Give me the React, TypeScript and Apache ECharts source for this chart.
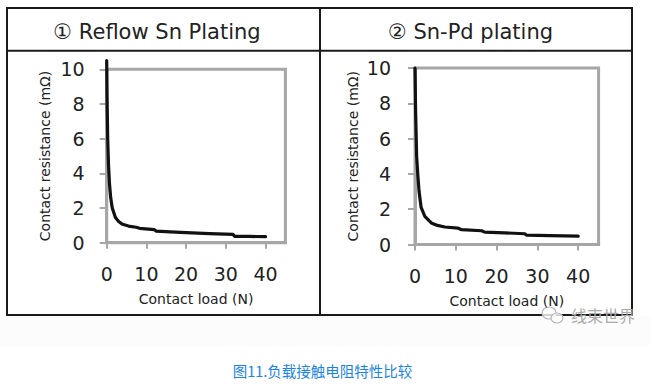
import React, { useEffect, useRef } from "react";
import * as echarts from "echarts";

const panelTitles = ["① Reflow Sn Plating", "② Sn-Pd plating"];
const xAxisName = "Contact load (N)";
const yAxisName = "Contact resistance (mΩ)";
const xTicks = [0, 10, 20, 30, 40];
const caption = "图11.负载接触电阻特性比较";
const watermark = "线束世界";

// ① Reflow Sn plating
const snLoad = [0, 0.1, 0.25, 0.45, 0.7, 1.0, 1.4, 2.2, 3.0, 4.0, 5.5, 7.4, 8.3, 12.0, 12.5, 16, 20, 25.9, 31.8, 32.2, 36, 40];
const snRes = [10.5, 8.2, 6.0, 4.5, 3.4, 2.6, 2.0, 1.45, 1.22, 1.06, 0.96, 0.89, 0.83, 0.75, 0.67, 0.62, 0.58, 0.52, 0.48, 0.37, 0.36, 0.35];

// ② Sn-Pd plating
const pdLoad = [0, 0.15, 0.4, 0.7, 1.0, 1.5, 2.4, 4.0, 5.5, 7.3, 10.5, 11.4, 16.3, 17.1, 22, 26.9, 27.3, 33, 40];
const pdRes = [10, 7.5, 5.0, 3.9, 3.0, 2.1, 1.6, 1.22, 1.08, 0.99, 0.93, 0.84, 0.78, 0.7, 0.66, 0.61, 0.53, 0.5, 0.47];

const FONT = "DejaVu Sans";
const GRAY = "#a6a6a6";
const TEXT = "#222";

function makeX(gridIndex: number) {
  return {
    type: "value",
    gridIndex,
    min: 0,
    max: 45,
    interval: 10,
    axisLine: { show: true, onZero: false, lineStyle: { color: GRAY, width: 3 } },
    axisTick: { show: true, length: 6, customValues: xTicks, lineStyle: { color: GRAY, width: 2 } },
    axisLabel: { customValues: xTicks, fontSize: 19, color: TEXT, fontFamily: FONT, margin: 22 },
    splitLine: { show: false },
    name: xAxisName,
    nameLocation: "middle",
    nameGap: 49,
    nameTextStyle: { fontSize: 14, color: TEXT, fontFamily: FONT },
  };
}

function makeY(gridIndex: number, margin: number) {
  return {
    type: "value",
    gridIndex,
    min: 0,
    max: 10,
    interval: 2,
    axisLine: { show: true, onZero: false, lineStyle: { color: GRAY, width: 3 } },
    axisTick: { show: true, length: 7, lineStyle: { color: GRAY, width: 2 } },
    axisLabel: { fontSize: 19, color: TEXT, fontFamily: FONT, margin },
    splitLine: { show: false },
    name: yAxisName,
    nameLocation: "middle",
    nameGap: 55,
    nameTextStyle: { fontSize: 14, color: TEXT, fontFamily: FONT },
  };
}

function makeSeries(idx: number, xs: number[], ys: number[]) {
  return {
    type: "line",
    xAxisIndex: idx,
    yAxisIndex: idx,
    data: xs.map((x, i) => [x, ys[i]]),
    showSymbol: false,
    symbol: "none",
    clip: false,
    lineStyle: { color: "#111", width: 3.2, cap: "round", join: "round" },
  };
}

export default function App() {
  const ref = useRef<HTMLDivElement>(null);
  useEffect(() => {
    if (!ref.current) return;
    const chart = echarts.init(ref.current, null, { renderer: "svg" });
    chart.setOption({
      animation: false,
      backgroundColor: "#ffffff",
      grid: [
        { left: 106.7, top: 69.3, width: 178.7, height: 173.4, show: true, borderColor: GRAY, borderWidth: 3 },
        { left: 415, top: 68, width: 183.6, height: 176.5, show: true, borderColor: GRAY, borderWidth: 3 },
      ],
      xAxis: [makeX(0), makeX(1)],
      yAxis: [makeY(0, 22), makeY(1, 24)],
      series: [makeSeries(0, snLoad, snRes), makeSeries(1, pdLoad, pdRes)],
      graphic: [
        { type: "rect", silent: true, z: -1, shape: { x: 0, y: 316, width: 650, height: 30 }, style: { fill: "#fcfcfc" } },
        { type: "rect", shape: { x: 7, y: 8, width: 625, height: 307 }, style: { fill: "none", stroke: "#1a1a1a", lineWidth: 2 } },
        { type: "line", shape: { x1: 7, y1: 50.7, x2: 632, y2: 50.7 }, style: { stroke: "#1a1a1a", lineWidth: 2 } },
        { type: "line", shape: { x1: 320, y1: 8, x2: 320, y2: 315 }, style: { stroke: "#1a1a1a", lineWidth: 2 } },
        { type: "text", x: 157, y: 31.5, style: { text: panelTitles[0], fontSize: 21, fontFamily: FONT, fill: TEXT, textAlign: "center", textVerticalAlign: "middle" } },
        { type: "text", x: 470.5, y: 31.5, style: { text: panelTitles[1], fontSize: 21, fontFamily: FONT, fill: TEXT, textAlign: "center", textVerticalAlign: "middle" } },
        { type: "ellipse", shape: { cx: 549, cy: 313, rx: 7, ry: 6 }, style: { fill: "rgba(255,255,255,0.8)", stroke: "#b8b8b8", lineWidth: 1.2 } },
        { type: "ellipse", shape: { cx: 557, cy: 318, rx: 6, ry: 5 }, style: { fill: "rgba(255,255,255,0.8)", stroke: "#b8b8b8", lineWidth: 1.2 } },
        { type: "text", x: 571, y: 315, style: { text: watermark, fontSize: 16, fontFamily: "Noto Sans CJK SC", fill: "#aaaaaa", textAlign: "left", textVerticalAlign: "middle" } },
        { type: "text", x: 322.5, y: 370, style: { text: caption, fontSize: 14.5, fontFamily: "Noto Sans CJK SC", fill: "#1a84e6", textAlign: "center", textVerticalAlign: "middle" } },
      ],
    });
    return () => chart.dispose();
  }, []);
  return <div ref={ref} style={{ position: "fixed", left: 0, top: 0, width: 655, height: 389 }} />;
}
